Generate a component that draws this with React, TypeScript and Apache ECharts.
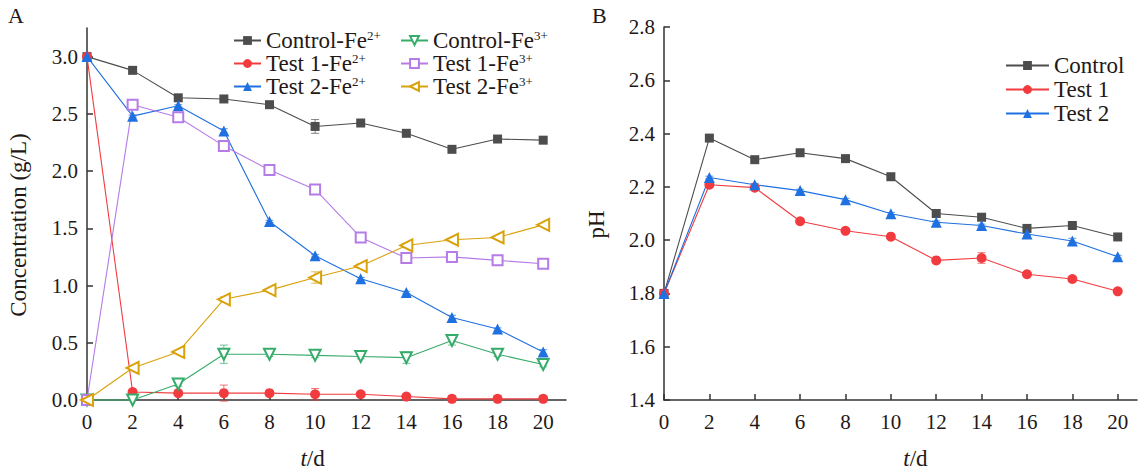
import React, { useEffect, useRef } from "react";
import * as echarts from "echarts";

const days = [0, 2, 4, 6, 8, 10, 12, 14, 16, 18, 20];
const xTicks = [0, 2, 4, 6, 8, 10, 12, 14, 16, 18, 20];
const yTicksA = [0, 0.5, 1.0, 1.5, 2.0, 2.5, 3.0];
const yTicksB = [1.4, 1.6, 1.8, 2.0, 2.2, 2.4, 2.6, 2.8];

// Panel A: concentration (g/L)
const controlFe2 = [3.0, 2.88, 2.64, 2.63, 2.58, 2.39, 2.42, 2.33, 2.19, 2.28, 2.27];
const test1Fe2 = [3.0, 0.07, 0.06, 0.06, 0.06, 0.05, 0.05, 0.03, 0.01, 0.01, 0.01];
const test2Fe2 = [3.0, 2.48, 2.57, 2.35, 1.56, 1.26, 1.06, 0.94, 0.72, 0.62, 0.42];
const controlFe3 = [0, 0, 0.14, 0.4, 0.4, 0.39, 0.38, 0.37, 0.52, 0.4, 0.31];
const test1Fe3 = [0, 2.58, 2.47, 2.22, 2.01, 1.84, 1.42, 1.24, 1.25, 1.22, 1.19];
const test2Fe3 = [0, 0.28, 0.42, 0.88, 0.96, 1.07, 1.17, 1.35, 1.4, 1.42, 1.53];

const errControlFe2 = [0, 0.01, 0.02, 0.01, 0.01, 0.06, 0.01, 0.01, 0.01, 0.01, 0.01];
const errTest1Fe2 = [0, 0.01, 0.02, 0.07, 0.02, 0.05, 0.02, 0.01, 0.03, 0.03, 0.03];
const errTest2Fe2 = [0, 0.01, 0.01, 0.02, 0.01, 0.01, 0.01, 0.01, 0.02, 0.01, 0.02];
const errControlFe3 = [0, 0, 0.02, 0.08, 0.02, 0.02, 0.02, 0.05, 0.04, 0.02, 0.02];
const errTest1Fe3 = [0, 0.01, 0.01, 0.02, 0.01, 0.01, 0.01, 0.01, 0.01, 0.01, 0.02];
const errTest2Fe3 = [0, 0.01, 0.01, 0.02, 0.01, 0.05, 0.02, 0.02, 0.01, 0.01, 0.01];

// Panel B: pH
const phControl = [1.8, 2.383, 2.302, 2.328, 2.306, 2.238, 2.1, 2.086, 2.044, 2.055, 2.012];
const phTest1 = [1.8, 2.208, 2.197, 2.071, 2.035, 2.013, 1.924, 1.933, 1.872, 1.854, 1.808];
const phTest2 = [1.8, 2.235, 2.208, 2.186, 2.152, 2.099, 2.067, 2.055, 2.023, 1.997, 1.938];

const errPhControl = [0, 0.01, 0.005, 0.005, 0.005, 0.005, 0.005, 0.005, 0.005, 0.005, 0.005];
const errPhTest1 = [0, 0.005, 0.005, 0.005, 0.005, 0.005, 0.005, 0.02, 0.005, 0.005, 0.005];
const errPhTest2 = [0, 0.005, 0.005, 0.005, 0.005, 0.005, 0.005, 0.005, 0.005, 0.01, 0.005];

const namesA = [
  "Control-Fe2+",
  "Test 1-Fe2+",
  "Test 2-Fe2+",
  "Control-Fe3+",
  "Test 1-Fe3+",
  "Test 2-Fe3+",
];
const namesB = ["Control", "Test 1", "Test 2"];

const FONT = "Liberation Serif";
const TXT = "#231815";
const C_GRAY = "#4d4d4d";
const C_RED = "#f23b3f";
const C_BLUE = "#1f70e0";
const C_GREEN = "#36ac6a";
const C_PURPLE = "#b57be6";
const C_GOLD = "#d9a20a";

function pairs(vals: number[]) {
  return days.map((d, i) => [d, vals[i]]);
}
function errTriples(vals: number[], errs: number[]) {
  return days.map((d, i) => [d, vals[i], errs[i]]);
}

function lineSeries(
  name: string,
  vals: number[],
  color: string,
  symbol: string,
  size: number,
  gridIdx: number,
  rotate = 0
) {
  return {
    type: "line",
    name,
    data: pairs(vals),
    xAxisIndex: gridIdx,
    yAxisIndex: gridIdx,
    symbol,
    symbolSize: size,
    symbolRotate: rotate,
    showAllSymbol: true,
    lineStyle: { color, width: 1.1 },
    itemStyle: { color, borderColor: color, borderWidth: symbol.startsWith("empty") ? 1.4 : 0 },
    emphasis: { disabled: true },
    z: 3,
    clip: false,
  };
}

function errSeries(vals: number[], errs: number[], color: string, gridIdx: number) {
  return {
    type: "custom",
    xAxisIndex: gridIdx,
    yAxisIndex: gridIdx,
    data: errTriples(vals, errs),
    z: 2,
    silent: true,
    renderItem: (params: any, api: any) => {
      const x = api.value(0);
      const y = api.value(1);
      const e = api.value(2);
      if (!e) return null;
      const top = api.coord([x, y + e]);
      const bot = api.coord([x, y - e]);
      const w = 4;
      const style = { stroke: color, lineWidth: 1, opacity: 0.7 };
      return {
        type: "group",
        children: [
          { type: "line", shape: { x1: top[0], y1: top[1], x2: bot[0], y2: bot[1] }, style },
          { type: "line", shape: { x1: top[0] - w, y1: top[1], x2: top[0] + w, y2: top[1] }, style },
          { type: "line", shape: { x1: bot[0] - w, y1: bot[1], x2: bot[0] + w, y2: bot[1] }, style },
        ],
      };
    },
  };
}

function fmtLegend(name: string) {
  const m = name.match(/^(.*)Fe(\d\+)$/);
  if (m) return `{t|${m[1]}Fe}{s|${m[2]}}`;
  return `{t|${name}}`;
}

const legendText = {
  color: TXT,
  fontFamily: FONT,
  fontSize: 23,
  rich: {
    t: { fontFamily: FONT, fontSize: 23, color: TXT, lineHeight: 23, verticalAlign: "bottom" },
    s: { fontFamily: FONT, fontSize: 13, color: TXT, lineHeight: 23, verticalAlign: "top" },
  },
};

const axisCommon = {
  axisLine: { show: true, lineStyle: { color: "#333", width: 1.5 } },
  axisTick: { show: true, inside: true, length: 6, lineStyle: { color: "#333", width: 1.5 } },
  splitLine: { show: false },
};

const labelStyle = {
  color: TXT,
  fontFamily: FONT,
  fontSize: 21,
};
const titleStyle = {
  color: TXT,
  fontFamily: FONT,
  fontSize: 23,
};

function xAxisFor(gridIndex: number, max: number, pad: number[]) {
  return {
    type: "value",
    gridIndex,
    min: 0,
    max,
    interval: 2,
    ...axisCommon,
    axisTick: { ...axisCommon.axisTick, customValues: xTicks },
    axisLabel: {
      ...labelStyle,
      customValues: xTicks,
      margin: 11,
      formatter: (v: number) => String(v),
    },
    name: "{i|t}/d",
    nameLocation: "middle",
    nameGap: 47,
    nameTextStyle: {
      ...titleStyle,
      padding: pad,
      rich: { i: { fontFamily: FONT, fontSize: 23, fontStyle: "italic", color: TXT } },
    },
  };
}

export default function App() {
  const ref = useRef<HTMLDivElement>(null);
  useEffect(() => {
    if (!ref.current) return;
    const chart = echarts.init(ref.current, undefined, { renderer: "svg" });
    const option: any = {
      animation: false,
      backgroundColor: "#fff",
      textStyle: { fontFamily: FONT, fontSize: 23, color: TXT },
      graphic: [
        { type: "text", left: 8, top: 4, style: { text: "A", fontFamily: FONT, fontSize: 22, fill: TXT } },
        { type: "text", left: 592, top: 4, style: { text: "B", fontFamily: FONT, fontSize: 22, fill: TXT } },
      ],
      grid: [
        { left: 87, top: 28, width: 479, height: 381 },
        { left: 664, top: 27, width: 473, height: 383 },
      ],
      xAxis: [xAxisFor(0, 21, [0, 28, 0, 0]), xAxisFor(1, 20.85, [0, 0, 0, 30])],
      yAxis: [
        {
          type: "value",
          gridIndex: 0,
          min: 0,
          max: 3.25,
          interval: 0.25,
          ...axisCommon,
          axisTick: { ...axisCommon.axisTick, customValues: yTicksA },
          axisLabel: {
            ...labelStyle,
            customValues: yTicksA,
            margin: 9,
            formatter: (v: number) => v.toFixed(1),
          },
          name: "Concentration (g/L)",
          nameLocation: "middle",
          nameGap: 57,
          nameTextStyle: { ...titleStyle, padding: [0, 22, 0, 0] },
        },
        {
          type: "value",
          gridIndex: 1,
          min: 1.4,
          max: 2.8,
          interval: 0.2,
          ...axisCommon,
          axisTick: { ...axisCommon.axisTick, customValues: yTicksB },
          axisLabel: {
            ...labelStyle,
            customValues: yTicksB,
            margin: 9,
            formatter: (v: number) => v.toFixed(1),
          },
          name: "pH",
          nameLocation: "middle",
          nameGap: 56,
          nameTextStyle: { ...titleStyle, padding: [0, 22, 0, 0] },
        },
      ],
      legend: [
        {
          data: namesA.slice(0, 3),
          orient: "vertical",
          left: 228,
          top: 24,
          itemWidth: 27,
          itemHeight: 11,
          itemGap: 0,
          formatter: fmtLegend,
          textStyle: legendText,
          selectedMode: false,
        },
        {
          data: namesA.slice(3),
          orient: "vertical",
          left: 395,
          top: 24,
          itemWidth: 27,
          itemHeight: 11,
          itemGap: 0,
          formatter: fmtLegend,
          textStyle: legendText,
          selectedMode: false,
        },
        {
          data: namesB,
          orient: "vertical",
          left: 1000,
          top: 49,
          itemWidth: 43,
          itemHeight: 11,
          itemGap: 1,
          formatter: fmtLegend,
          textStyle: legendText,
          selectedMode: false,
        },
      ],
      series: [
        errSeries(controlFe2, errControlFe2, C_GRAY, 0),
        errSeries(test1Fe2, errTest1Fe2, C_RED, 0),
        errSeries(test2Fe2, errTest2Fe2, C_BLUE, 0),
        errSeries(controlFe3, errControlFe3, C_GREEN, 0),
        errSeries(test1Fe3, errTest1Fe3, C_PURPLE, 0),
        errSeries(test2Fe3, errTest2Fe3, C_GOLD, 0),
        lineSeries(namesA[0], controlFe2, C_GRAY, "rect", 9, 0),
        lineSeries(namesA[1], test1Fe2, C_RED, "circle", 10, 0),
        lineSeries(namesA[2], test2Fe2, C_BLUE, "triangle", 11, 0),
        lineSeries(namesA[3], controlFe3, C_GREEN, "emptyTriangle", 11, 0, 180),
        lineSeries(namesA[4], test1Fe3, C_PURPLE, "emptyRect", 10, 0),
        lineSeries(namesA[5], test2Fe3, C_GOLD, "emptyTriangle", 12, 0, 90),
        errSeries(phControl, errPhControl, C_GRAY, 1),
        errSeries(phTest1, errPhTest1, C_RED, 1),
        errSeries(phTest2, errPhTest2, C_BLUE, 1),
        lineSeries(namesB[0], phControl, C_GRAY, "rect", 9, 1),
        lineSeries(namesB[1], phTest1, C_RED, "circle", 10, 1),
        lineSeries(namesB[2], phTest2, C_BLUE, "triangle", 11, 1),
      ],
    };
    chart.setOption(option);
    return () => chart.dispose();
  }, []);
  return (
    <div
      ref={ref}
      style={{ position: "absolute", left: 0, top: 0, width: 1138, height: 475 }}
    />
  );
}
